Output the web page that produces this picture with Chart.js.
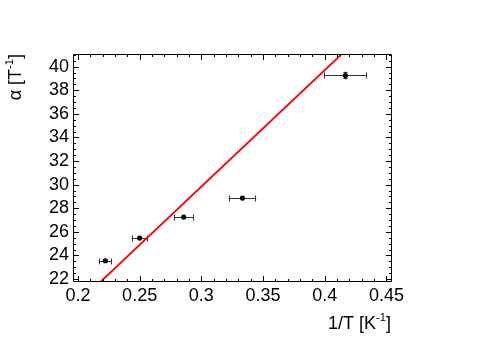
<!DOCTYPE html>
<html>
<head>
<meta charset="utf-8">
<script src="https://cdn.jsdelivr.net/npm/chart.js@4.4.1/dist/chart.umd.min.js"></script>
<style>
    html, body { margin: 0; padding: 0; background: #fff; }
</style>
</head>
<body>
<canvas id="myChart" width="491" height="353"></canvas>
<script>
// measured points (1/T in K^-1, alpha in T^-1)
const invT = [0.2222, 0.2500, 0.2857, 0.3333, 0.4167];
const alpha = [23.55, 25.47, 27.25, 28.86, 39.25];
const invTErr = [0.0051, 0.0065, 0.0080, 0.0112, 0.0173];
const alphaErr = [0.15, 0.15, 0.15, 0.15, 0.33];

// fitted straight line, end points
const fitX = [0.2182, 0.4140];
const fitY = [21.75, 41.09];

const xTicks = [0.2, 0.25, 0.3, 0.35, 0.4, 0.45];
const xTickLabels = ['0.2', '0.25', '0.3', '0.35', '0.4', '0.45'];
const yTicks = [22, 24, 26, 28, 30, 32, 34, 36, 38, 40];
const yTickLabels = ['22', '24', '26', '28', '30', '32', '34', '36', '38', '40'];

const FONT = '"Liberation Sans", Arial, Helvetica, sans-serif';

// text with a raised "-1"
function supText(ctx, parts, size) {
    let w = 0;
    parts.forEach(p => {
        ctx.font = (p.sup ? size * 0.62 : size) + 'px ' + FONT;
        p.w = ctx.measureText(p.t).width;
        w += p.w;
    });
    return w;
}
function drawParts(ctx, parts, x, y, size) {
    parts.forEach(p => {
        ctx.font = (p.sup ? size * 0.62 : size) + 'px ' + FONT;
        ctx.fillText(p.t, x, p.sup ? y - size * 0.42 : y);
        x += p.w;
    });
}

const rootStyle = {
    id: 'rootStyle',
    beforeDatasetsDraw(chart) {
        const ctx = chart.ctx;
        const xs = chart.scales.x, ys = chart.scales.y;
        const a = chart.chartArea;
        ctx.save();
        ctx.beginPath();
        ctx.rect(a.left, a.top, a.right - a.left, a.bottom - a.top);
        ctx.clip();
        ctx.strokeStyle = '#333';
        ctx.lineWidth = 1;
        invT.forEach((v, i) => {
            const px = Math.round(xs.getPixelForValue(v)) + 0.5;
            const py = Math.round(ys.getPixelForValue(alpha[i])) + 0.5;
            const x0 = xs.getPixelForValue(v - invTErr[i]);
            const x1 = xs.getPixelForValue(v + invTErr[i]);
            ctx.beginPath();
            ctx.moveTo(x0, py); ctx.lineTo(x1, py);
            ctx.moveTo(Math.round(x0) + 0.5, py - 3); ctx.lineTo(Math.round(x0) + 0.5, py + 3);
            ctx.moveTo(Math.round(x1) - 0.5, py - 3); ctx.lineTo(Math.round(x1) - 0.5, py + 3);
            const y0 = ys.getPixelForValue(alpha[i] - alphaErr[i]);
            const y1 = ys.getPixelForValue(alpha[i] + alphaErr[i]);
            if (Math.abs(y0 - y1) / 2 > 3.2) {
                ctx.moveTo(px, y0); ctx.lineTo(px, y1);
                ctx.moveTo(px - 2, Math.round(y0) - 0.5); ctx.lineTo(px + 2, Math.round(y0) - 0.5);
                ctx.moveTo(px - 2, Math.round(y1) + 0.5); ctx.lineTo(px + 2, Math.round(y1) + 0.5);
            }
            ctx.stroke();
        });
        ctx.restore();
    },
    afterDraw(chart) {
        const ctx = chart.ctx;
        const xs = chart.scales.x, ys = chart.scales.y;
        const a = chart.chartArea;
        ctx.save();
        ctx.strokeStyle = '#000';
        ctx.lineWidth = 1;
        ctx.beginPath();
        ctx.rect(a.left + 0.5, a.top + 0.5, a.right - a.left - 1, a.bottom - a.top - 1);
        // ticks drawn inside the frame, ROOT style
        for (let k = 20; k <= 45; k++) {
            const v = k / 100;
            if (v < xs.min || v > xs.max) continue;
            const len = k % 5 === 0 ? 6 : 3;
            const px = Math.round(xs.getPixelForValue(v)) + 0.5;
            ctx.moveTo(px, a.bottom); ctx.lineTo(px, a.bottom - len);
            ctx.moveTo(px, a.top); ctx.lineTo(px, a.top + len);
        }
        for (let k = 44; k <= 82; k++) {
            const v = k / 2;
            if (v < ys.min || v > ys.max) continue;
            const len = k % 4 === 0 ? 6 : 3;
            const py = Math.round(ys.getPixelForValue(v)) + 0.5;
            ctx.moveTo(a.left, py); ctx.lineTo(a.left + len, py);
            ctx.moveTo(a.right, py); ctx.lineTo(a.right - len, py);
        }
        ctx.stroke();

        // axis titles
        ctx.fillStyle = '#000';
        ctx.textBaseline = 'alphabetic';
        ctx.textAlign = 'left';
        const xt = [{ t: '1/T [K' }, { t: '-1', sup: true }, { t: ']' }];
        const wx = supText(ctx, xt, 18);
        drawParts(ctx, xt, a.right - 1 - wx, 329, 18);

        const yt = [{ t: '\u03b1 [T' }, { t: '-1', sup: true }, { t: ']' }];
        const wy = supText(ctx, yt, 18);
        ctx.translate(21, a.top);
        ctx.rotate(-Math.PI / 2);
        drawParts(ctx, yt, -wy, 0, 18);
        ctx.restore();
    }
};

document.addEventListener('DOMContentLoaded', () => {
    const ctx = document.getElementById('myChart');

    const myChart = new Chart(ctx, {
        type: 'scatter',
        data: {
            datasets: [{
                label: 'data',
                data: invT.map((v, i) => ({ x: v, y: alpha[i] })),
                backgroundColor: '#000',
                borderWidth: 0,
                pointRadius: 2.6
            }, {
                label: 'fit',
                data: fitX.map((v, i) => ({ x: v, y: fitY[i] })),
                showLine: true,
                borderColor: '#ff0000',
                borderWidth: 1.8,
                pointRadius: 0
            }]
        },
        options: {
            responsive: false,
            animation: false,
            devicePixelRatio: 1,
            layout: { padding: { top: 54, right: 99, left: 0, bottom: 0 } },
            plugins: {
                legend: { display: false },
                tooltip: { enabled: false }
            },
            scales: {
                x: {
                    type: 'linear',
                    min: 0.196,
                    max: 0.4545,
                    grid: { display: false, drawTicks: false },
                    border: { display: false },
                    afterBuildTicks: s => { s.ticks = xTicks.map(v => ({ value: v })); },
                    afterFit: s => { s.height = 71; },
                    ticks: {
                        padding: 3,
                        color: '#000',
                        maxRotation: 0,
                        autoSkip: false,
                        font: { family: FONT, size: 18 },
                        callback: v => xTickLabels[xTicks.indexOf(v)]
                    }
                },
                y: {
                    type: 'linear',
                    min: 21.75,
                    max: 41.07,
                    grid: { display: false, drawTicks: false },
                    border: { display: false },
                    afterBuildTicks: s => { s.ticks = yTicks.map(v => ({ value: v })); },
                    afterFit: s => { s.width = 73; },
                    ticks: {
                        padding: 4,
                        color: '#000',
                        autoSkip: false,
                        font: { family: FONT, size: 18 },
                        callback: v => yTickLabels[yTicks.indexOf(v)]
                    }
                }
            }
        },
        plugins: [rootStyle]
    });
});
</script>
</body>
</html>
